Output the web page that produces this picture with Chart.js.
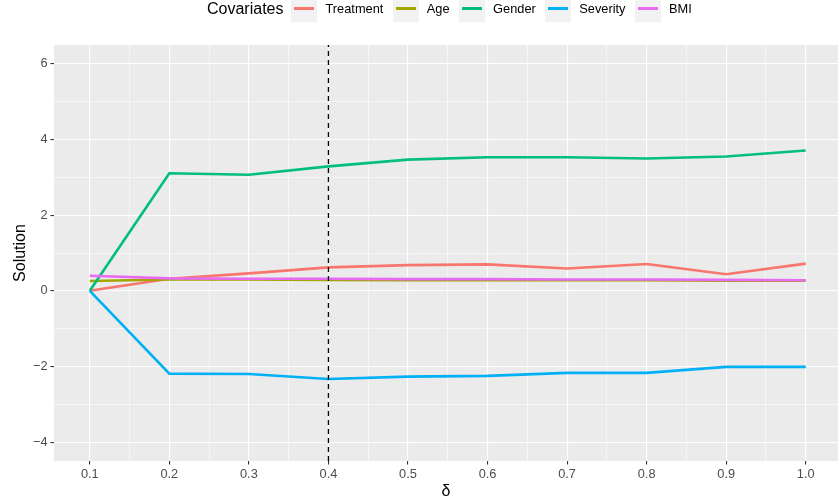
<!DOCTYPE html>
<html lang="en">
  <head>
    <meta charset="UTF-8" />
    <title>Solution by delta</title>
    <script src="https://cdn.jsdelivr.net/npm/chart.js@4.4.1/dist/chart.umd.min.js"></script>
    <style>
      body {
        margin: 0;
        background: #ffffff;
        font-family: "Liberation Sans", Arial, sans-serif;
      }

      #wrap {
        position: relative;
        width: 838px;
        height: 502px;
        overflow: hidden;
      }

      #chart {
        position: absolute;
        left: 0;
        top: 0;
      }

      #legend {
        position: absolute;
        left: 207px;
        top: -4.5px;
        height: 26px;
        display: flex;
        align-items: center;
        white-space: nowrap;
      }

      #legend .title {
        font-size: 16px;
        color: #000;
        margin-right: 8px;
      }

      #legend .key {
        width: 26px;
        height: 26px;
        background: #f2f2f2;
        position: relative;
      }

      #legend .key span {
        position: absolute;
        left: 3px;
        top: 11.5px;
        width: 20px;
        height: 3px;
      }

      #legend .label {
        font-size: 12.8px;
        color: #000;
        margin-left: 8px;
        margin-right: 9.5px;
      }
    </style>
  </head>
  <body>
    <div id="wrap">
      <canvas id="chart" width="838" height="502"></canvas>
      <div id="legend"><span class="title">Covariates</span></div>
    </div>

    <script>
      // values
      const deltas = [0.1, 0.2, 0.3, 0.4, 0.5, 0.6, 0.7, 0.8, 0.9, 1.0];
      const covariates = ["Treatment", "Age", "Gender", "Severity", "BMI"];
      const treatment = [0, 0.32, 0.46, 0.62, 0.68, 0.7, 0.59, 0.71, 0.44, 0.72];
      const age = [0.26, 0.3, 0.3, 0.29, 0.28, 0.28, 0.28, 0.28, 0.27, 0.27];
      const gender = [0, 3.11, 3.07, 3.29, 3.47, 3.53, 3.53, 3.5, 3.55, 3.71];
      const severity = [0, -2.19, -2.2, -2.33, -2.27, -2.25, -2.17, -2.17, -2.01, -2.01];
      const bmi = [0.4, 0.33, 0.32, 0.32, 0.31, 0.31, 0.3, 0.3, 0.29, 0.28];
      const colors = ["#F8766D", "#A3A500", "#00BF7D", "#00B0F6", "#E76BF3"];
      const cutoff = 0.4; // dashed vertical line

      const xBreaks = [0.1, 0.2, 0.3, 0.4, 0.5, 0.6, 0.7, 0.8, 0.9, 1.0];
      const yBreaks = [-4, -2, 0, 2, 4, 6];
      const xMin = 0.055, xMax = 1.0406;
      const yMin = -4.5, yMax = 6.5;

      const series = [treatment, age, gender, severity, bmi];

      // minor breaks sit halfway between major ones (ggplot style)
      function withMinor(breaks, lo, hi) {
        const step = breaks[1] - breaks[0];
        const out = [];
        breaks.forEach((b, i) => {
          out.push({ value: b, major: true });
          if (i < breaks.length - 1) out.push({ value: b + step / 2, major: false });
        });
        const before = breaks[0] - step / 2;
        if (before >= lo) out.unshift({ value: before, major: false });
        const after = breaks[breaks.length - 1] + step / 2;
        if (after <= hi) out.push({ value: after, major: false });
        return out;
      }
      const xTicks = withMinor(xBreaks, xMin, xMax);
      const yTicks = withMinor(yBreaks, yMin, yMax);

      const isMajor = (list, v) =>
        list.some((b) => Math.abs(b - v) < 1e-9);

      // html legend
      const legend = document.getElementById("legend");
      covariates.forEach((name, i) => {
        const key = document.createElement("div");
        key.className = "key";
        const line = document.createElement("span");
        line.style.background = colors[i];
        key.appendChild(line);
        const label = document.createElement("span");
        label.className = "label";
        label.textContent = name;
        legend.appendChild(key);
        legend.appendChild(label);
      });

      const panelBg = {
        id: "panelBg",
        beforeDraw(chart) {
          const { ctx, chartArea: a } = chart;
          ctx.save();
          ctx.fillStyle = "#EBEBEB";
          ctx.fillRect(a.left, a.top, a.right - a.left, a.bottom - a.top);
          ctx.restore();
        },
      };

      const datasets = covariates.map((name, i) => ({
        label: name,
        data: deltas.map((d, j) => ({ x: d, y: series[i][j] })),
        borderColor: colors[i],
        backgroundColor: colors[i],
        borderWidth: 2.6,
        pointRadius: 0,
        tension: 0,
        fill: false,
        order: covariates.length - i + 1,
      }));
      datasets.push({
        label: "cutoff",
        data: [
          { x: cutoff, y: yMin },
          { x: cutoff, y: yMax },
        ],
        borderColor: "#000000",
        borderWidth: 1.3,
        borderDash: [5, 4],
        pointRadius: 0,
        fill: false,
        order: 0,
      });

      const tickFont = { family: "'Liberation Sans', Arial, sans-serif", size: 12.8 };
      const titleFont = { family: "'Liberation Sans', Arial, sans-serif", size: 16 };

      new Chart(document.getElementById("chart"), {
        type: "line",
        data: { datasets: datasets },
        options: {
          responsive: false,
          animation: false,
          devicePixelRatio: 1,
          layout: { padding: { top: 45, left: 0, right: 0, bottom: 0 } },
          plugins: {
            legend: { display: false },
            tooltip: { enabled: false },
          },
          scales: {
            x: {
              type: "linear",
              min: xMin,
              max: xMax,
              afterBuildTicks: (scale) => {
                scale.ticks = xTicks.map((t) => ({ value: t.value }));
              },
              afterFit: (scale) => {
                scale.height = 41;
              },
              border: { display: false },
              grid: {
                color: "#FFFFFF",
                lineWidth: (ctx) => (isMajor(xBreaks, ctx.tick.value) ? 1.1 : 0.55),
                tickColor: (ctx) =>
                  isMajor(xBreaks, ctx.tick.value) ? "#333333" : "rgba(0,0,0,0)",
                tickLength: 3.5,
                tickWidth: 1.1,
              },
              ticks: {
                autoSkip: false,
                maxRotation: 0,
                padding: 2,
                color: "#4D4D4D",
                font: tickFont,
                callback: (v) => (isMajor(xBreaks, v) ? v.toFixed(1) : ""),
              },
              title: {
                display: true,
                text: "δ",
                color: "#000000",
                font: titleFont,
                padding: { top: 0, bottom: 1 },
              },
            },
            y: {
              type: "linear",
              min: yMin,
              max: yMax,
              afterBuildTicks: (scale) => {
                scale.ticks = yTicks.map((t) => ({ value: t.value }));
              },
              afterFit: (scale) => {
                scale.width = 54;
              },
              border: { display: false },
              grid: {
                color: "#FFFFFF",
                lineWidth: (ctx) => (isMajor(yBreaks, ctx.tick.value) ? 1.1 : 0.55),
                tickColor: (ctx) =>
                  isMajor(yBreaks, ctx.tick.value) ? "#333333" : "rgba(0,0,0,0)",
                tickLength: 3.5,
                tickWidth: 1.1,
              },
              ticks: {
                autoSkip: false,
                padding: 3,
                color: "#4D4D4D",
                font: tickFont,
                callback: (v) =>
                  isMajor(yBreaks, v) ? (v < 0 ? "\u2212" + Math.abs(v) : String(v)) : "",
              },
              title: {
                display: true,
                text: "Solution",
                color: "#000000",
                font: titleFont,
                padding: { top: 11, bottom: 0 },
              },
            },
          },
        },
        plugins: [panelBg],
      });
    </script>
  </body>
</html>
